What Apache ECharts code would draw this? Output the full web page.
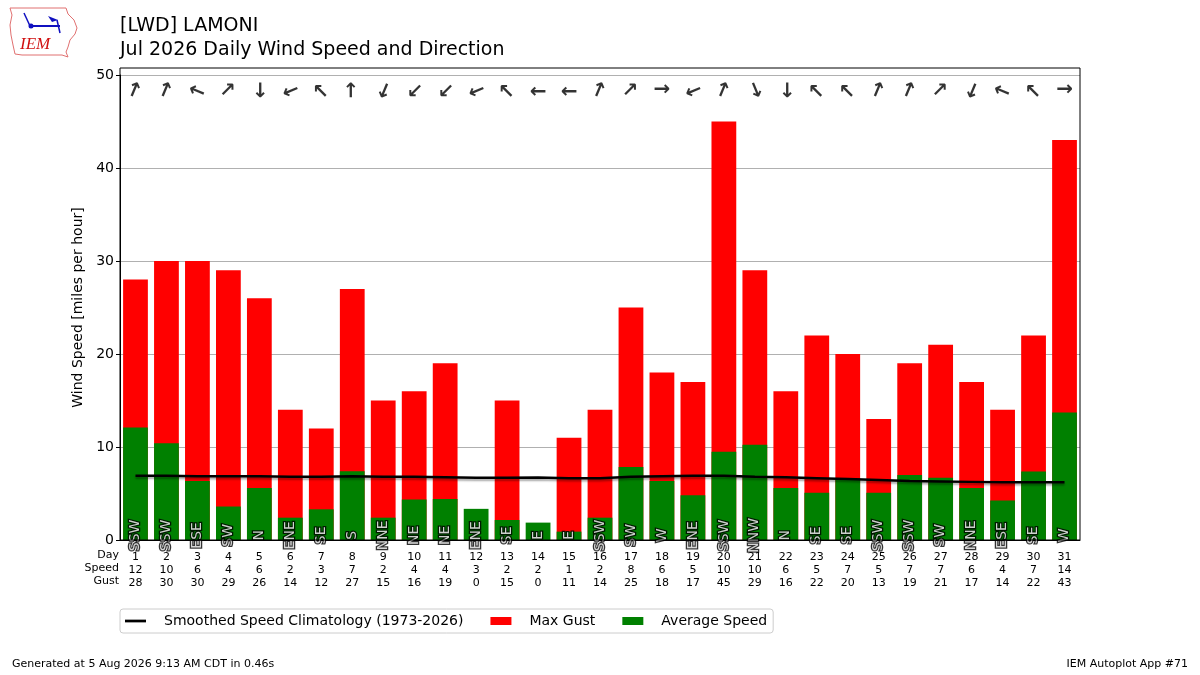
<!DOCTYPE html>
<html>
<head>
<meta charset="utf-8">
<script src="https://cdn.jsdelivr.net/npm/echarts@6/dist/echarts.min.js"></script>
<style>
  html, body { margin: 0; padding: 0; background: #fff; }
  #main { width: 1200px; height: 675px; }
</style>
</head>
<body>
<div id="main"></div>
<script>
// data
const days = ['1','2','3','4','5','6','7','8','9','10','11','12','13','14','15','16',
              '17','18','19','20','21','22','23','24','25','26','27','28','29','30','31'];
const avgSpeed = [12.1, 10.4, 6.35, 3.6, 5.6, 2.4, 3.3, 7.4, 2.4, 4.35, 4.4, 3.35, 2.15, 1.87, 0.9, 2.4,
                  7.84, 6.35, 4.8, 9.5, 10.25, 5.6, 5.07, 6.6, 5.07, 6.98, 6.7, 5.6, 4.25, 7.37, 13.7];
const maxGust = [28, 30, 30, 29, 26, 14, 12, 27, 15, 16, 19, 0, 15, 0, 11, 14,
                 25, 18, 17, 45, 29, 16, 22, 20, 13, 19, 21, 17, 14, 22, 43];
const climo = [6.9, 6.9, 6.85, 6.85, 6.85, 6.8, 6.8, 6.85, 6.8, 6.8, 6.75, 6.7, 6.7, 6.72, 6.65, 6.65,
               6.8, 6.85, 6.9, 6.9, 6.8, 6.75, 6.65, 6.55, 6.45, 6.35, 6.3, 6.25, 6.2, 6.2, 6.2];
const dirText = ['SSW','SSW','ESE','SW','N','ENE','SE','S','NNE','NE','NE','ENE','SE','E','E','SSW',
                 'SW','W','ENE','SSW','NNW','N','SE','SE','SSW','SSW','SW','NNE','ESE','SE','W'];

const compass = {N:0, NNE:22.5, NE:45, ENE:67.5, E:90, ESE:112.5, SE:135, SSE:157.5,
                 S:180, SSW:202.5, SW:225, WSW:247.5, W:270, WNW:292.5, NW:315, NNW:337.5};

var myChart = echarts.init(document.getElementById('main'));

const FONT = 'DejaVu Sans';

// arrow points where the wind blows to; label rotate is counter-clockwise from east
function arrowRotate(name) {
    let r = -90 - compass[name];
    while (r <= -180) r += 360;
    return r;
}

myChart.setOption({
    animation: false,
    textStyle: { fontFamily: FONT },
    grid: { left: 120, right: 120, top: 75, bottom: 135, show: false },
    legend: {
        left: 120, top: 609,
        padding: [5, 6, 5, 5],
        borderColor: '#cccccc', borderWidth: 1, borderRadius: 3,
        itemWidth: 21, itemHeight: 8, itemGap: 27,
        textStyle: { fontFamily: FONT, fontSize: 14, color: '#000', padding: [0, 0, 0, 13] },
        data: [
            { name: 'Smoothed Speed Climatology (1973-2026)', icon: 'path://M0,0H20V2.6H0Z' },
            { name: 'Max Gust', icon: 'rect' },
            { name: 'Average Speed', icon: 'rect' }
        ]
    },
    xAxis: {
        type: 'category',
        data: days,
        axisLine: { lineStyle: { color: '#000', width: 1 } },
        axisTick: { alignWithLabel: true, length: 4, lineStyle: { color: '#000' } },
        axisLabel: {
            interval: 0, margin: 11, fontSize: 11, lineHeight: 13, color: '#000', fontFamily: FONT,
            formatter: function (v, i) {
                return days[i] + '\n' + Math.round(avgSpeed[i]) + '\n' + maxGust[i];
            }
        }
    },
    yAxis: {
        type: 'value', min: 0, max: 50, interval: 10,
        name: 'Wind Speed [miles per hour]',
        nameLocation: 'middle', nameGap: 34,
        nameTextStyle: { fontSize: 14, color: '#000', fontFamily: FONT },
        axisLine: { show: true, lineStyle: { color: '#000' } },
        axisTick: { show: true, length: 4, lineStyle: { color: '#000' } },
        axisLabel: { fontSize: 14, color: '#000', margin: 6, fontFamily: FONT },
        splitLine: { lineStyle: { color: '#b0b0b0', width: 1 } }
    },
    series: [
        {
            name: 'Max Gust', type: 'bar', data: maxGust,
            barWidth: '80%', barGap: '-100%',
            itemStyle: { color: '#ff0000' }, z: 2
        },
        {
            name: 'Average Speed', type: 'bar', data: avgSpeed,
            barWidth: '80%', barGap: '-100%',
            itemStyle: { color: '#008000' }, z: 3
        },
        {
            name: 'Smoothed Speed Climatology (1973-2026)', type: 'line', data: climo,
            symbol: 'none', z: 5,
            lineStyle: { color: '#000', width: 2.5, shadowColor: 'rgba(0,0,0,0.35)', shadowBlur: 2, shadowOffsetY: 2 },
            itemStyle: { color: '#000' }
        },
        {
            // compass text at the foot of each bar
            name: 'dirs', type: 'scatter', symbolSize: 0, z: 6,
            data: dirText.map(() => 0.5),
            label: {
                show: true, position: 'inside', rotate: 90,
                align: 'center', verticalAlign: 'middle',
                fontSize: 14, fontFamily: FONT, color: '#fff',
                textBorderColor: '#000', textBorderWidth: 2.5,
                formatter: p => dirText[p.dataIndex]
            },
            silent: true
        },
        {
            // direction arrows near the top
            name: 'arrows', type: 'scatter', symbolSize: 0, z: 6,
            data: dirText.map(d => ({ value: 48.4, label: { rotate: arrowRotate(d) } })),
            label: {
                show: true, position: 'inside',
                align: 'center', verticalAlign: 'middle',
                fontSize: 20, fontWeight: 'bold', fontFamily: FONT, color: '#000',
                formatter: () => '\u2192'
            },
            silent: true
        }
    ],
    graphic: [
        { type: 'rect', shape: { x: 120, y: 68, width: 960, height: 472 },
          style: { fill: 'none', stroke: '#000', lineWidth: 1 }, z: 10, silent: true },
        { type: 'text', left: 120, top: 14,
          style: { text: '[LWD] LAMONI\nJul 2026 Daily Wind Speed and Direction', fontSize: 19, lineHeight: 24, fill: '#000', fontFamily: FONT } },
        { type: 'text', x: 119, y: 549,
          style: { text: 'Day\nSpeed\nGust', fontSize: 11, lineHeight: 13, align: 'right', fill: '#000', fontFamily: FONT } },
        { type: 'text', left: 12, top: 659,
          style: { text: 'Generated at 5 Aug 2026 9:13 AM CDT in 0.46s', fontSize: 11, fill: '#000', fontFamily: FONT } },
        { type: 'text', right: 12, top: 659,
          style: { text: 'IEM Autoplot App #71', fontSize: 11, fill: '#000', fontFamily: FONT } },
        // IEM logo (rough)
        { type: 'polygon',
          shape: { points: [[10,8],[66,8],[68,14],[74,20],[77,28],[75,34],[70,40],[68,47],[66,52],[68,57],[62,55],[22,55],[15,54],[13,45],[11,35],[10,25],[12,15]] },
          style: { fill: '#fff', stroke: '#e07070', lineWidth: 1 } },
        { type: 'line', shape: { x1: 30, y1: 26, x2: 60, y2: 26 }, style: { stroke: '#1010c0', lineWidth: 2 } },
        { type: 'line', shape: { x1: 30, y1: 26, x2: 24, y2: 13 }, style: { stroke: '#1010c0', lineWidth: 1.5 } },
        { type: 'line', shape: { x1: 57, y1: 20, x2: 60, y2: 33 }, style: { stroke: '#1010c0', lineWidth: 1.5 } },
        { type: 'polygon', shape: { points: [[48,16],[58,20],[52,22]] }, style: { fill: '#1010c0' } },
        { type: 'circle', shape: { cx: 31, cy: 26, r: 2.5 }, style: { fill: '#1010c0' } },
        { type: 'text', x: 20, y: 36,
          style: { text: 'IEM', fontSize: 17, fontStyle: 'italic', fontFamily: 'Liberation Serif', fill: '#d01010' } }
    ]
});
</script>
</body>
</html>
